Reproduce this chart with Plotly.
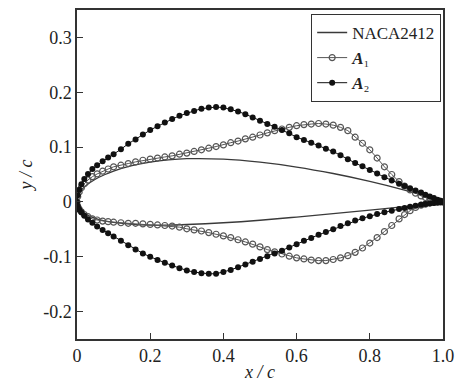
import plotly.graph_objects as go

# chordwise stations shared by the A1 / A2 profiles
x_st = [0, 0.002, 0.006, 0.012, 0.02, 0.03, 0.042, 0.055, 0.07, 0.085, 0.10,
        0.12, 0.14, 0.16, 0.18, 0.20, 0.22, 0.24, 0.26, 0.28, 0.30, 0.32, 0.34,
        0.36, 0.38, 0.40, 0.42, 0.44, 0.46, 0.48, 0.50, 0.52, 0.54, 0.56, 0.58,
        0.60, 0.62, 0.64, 0.66, 0.68, 0.70, 0.72, 0.74, 0.76, 0.78, 0.80, 0.82,
        0.84, 0.86, 0.88, 0.895, 0.91, 0.925, 0.94, 0.952, 0.964, 0.975, 0.985,
        0.993, 1.0]

a1_upper = [0, 0.010, 0.018, 0.026, 0.033, 0.040, 0.046, 0.051, 0.056, 0.060, 0.064,
            0.067, 0.070, 0.073, 0.076, 0.078, 0.080, 0.082, 0.084, 0.087, 0.089, 0.092, 0.095,
            0.098, 0.101, 0.104, 0.108, 0.111, 0.115, 0.118, 0.122, 0.126, 0.130, 0.133, 0.136,
            0.139, 0.141, 0.142, 0.143, 0.142, 0.140, 0.136, 0.130, 0.118, 0.107, 0.095, 0.080,
            0.064, 0.050, 0.037, 0.029, 0.022, 0.016, 0.011, 0.008, 0.006, 0.004, 0.002,
            0.001, 0.0]

a1_lower = [0, -0.008, -0.013, -0.018, -0.023, -0.027, -0.031, -0.033, -0.035, -0.036, -0.037,
            -0.038, -0.039, -0.039, -0.040, -0.041, -0.042, -0.043, -0.044, -0.046, -0.049, -0.051, -0.053,
            -0.056, -0.059, -0.062, -0.065, -0.069, -0.073, -0.077, -0.082, -0.087, -0.091, -0.095, -0.099,
            -0.102, -0.104, -0.106, -0.107, -0.107, -0.105, -0.102, -0.098, -0.092, -0.084, -0.075, -0.065,
            -0.054, -0.043, -0.031, -0.023, -0.016, -0.010, -0.006, -0.004, -0.002, -0.001, -0.0005,
            0.0, 0.0]

a2_upper = [0, 0.012, 0.022, 0.032, 0.042, 0.051, 0.060, 0.067, 0.074, 0.081, 0.087,
            0.096, 0.106, 0.114, 0.123, 0.131, 0.138, 0.145, 0.151, 0.157, 0.162, 0.166, 0.170,
            0.172, 0.173, 0.172, 0.169, 0.165, 0.160, 0.154, 0.148, 0.142, 0.137, 0.131, 0.125,
            0.118, 0.113, 0.108, 0.103, 0.097, 0.092, 0.085, 0.078, 0.071, 0.065, 0.058, 0.052,
            0.045, 0.039, 0.033, 0.029, 0.025, 0.021, 0.017, 0.013, 0.010, 0.007, 0.004,
            0.002, 0.0]

a2_lower = [0, -0.008, -0.014, -0.019, -0.025, -0.032, -0.038, -0.045, -0.051, -0.057, -0.063,
            -0.071, -0.079, -0.087, -0.094, -0.100, -0.106, -0.111, -0.116, -0.121, -0.125, -0.128, -0.130,
            -0.131, -0.131, -0.128, -0.124, -0.119, -0.114, -0.109, -0.104, -0.099, -0.094, -0.089, -0.083,
            -0.077, -0.071, -0.066, -0.060, -0.055, -0.050, -0.044, -0.039, -0.034, -0.030, -0.026, -0.022,
            -0.019, -0.016, -0.013, -0.011, -0.009, -0.007, -0.005, -0.004, -0.003, -0.002, -0.001,
            -0.0005, 0.0]

# NACA 2412 reference profile
naca_x = [0, 0.0125, 0.025, 0.05, 0.075, 0.1, 0.15, 0.2, 0.25, 0.3, 0.4, 0.5,
          0.6, 0.7, 0.8, 0.9, 0.95, 1.0]
naca_upper = [0, 0.0215, 0.0299, 0.0413, 0.0496, 0.0563, 0.0661, 0.0726, 0.0767,
              0.0788, 0.0780, 0.0724, 0.0636, 0.0518, 0.0375, 0.0208, 0.0114, 0.0013]
naca_lower = [0, -0.0165, -0.0227, -0.0301, -0.0346, -0.0375, -0.0410, -0.0423, -0.0422,
              -0.0412, -0.0380, -0.0334, -0.0276, -0.0214, -0.0150, -0.0082, -0.0048, -0.0013]

x_ticks = [0, 0.2, 0.4, 0.6, 0.8, 1.0]
x_ticklabels = ["0", "0.2", "0.4", "0.6", "0.8", "1.0"]
y_ticks = [-0.2, -0.1, 0, 0.1, 0.2, 0.3]
y_ticklabels = ["-0.2", "-0.1", "0", "0.1", "0.2", "0.3"]

FONT = "Liberation Serif"
TXT = "#222222"

def loop(xs, up, lo):
    xx = list(reversed(xs)) + list(xs[1:])
    yy = list(reversed(up)) + list(lo[1:])
    return xx, yy

fig = go.Figure()

nx, ny = loop(naca_x, naca_upper, naca_lower)
fig.add_trace(go.Scatter(x=nx, y=ny, mode="lines", name="NACA2412",
                         line=dict(color="#3a3a3a", width=1.3, shape="spline")))

ax, ay = loop(x_st, a1_upper, a1_lower)
fig.add_trace(go.Scatter(x=ax, y=ay, mode="lines+markers",
                         name="<b><i>A</i></b>\u2081",
                         line=dict(color="#555555", width=1),
                         marker=dict(symbol="circle-open", size=6, color="#555555",
                                     line=dict(width=1.2, color="#555555"))))

bx, by = loop(x_st, a2_upper, a2_lower)
fig.add_trace(go.Scatter(x=bx, y=by, mode="lines+markers",
                         name="<b><i>A</i></b>\u2082",
                         line=dict(color="#111111", width=1),
                         marker=dict(symbol="circle", size=6, color="#111111")))

axis_common = dict(showline=True, linecolor="#333333", linewidth=1.5, mirror=True,
                   ticks="inside", ticklen=6, tickwidth=1.3, tickcolor="#333333",
                   showgrid=False, zeroline=False,
                   tickfont=dict(family=FONT, size=18, color=TXT))

fig.update_layout(
    width=462, height=387,
    margin=dict(l=77, r=15, t=8, b=48),
    paper_bgcolor="white", plot_bgcolor="white",
    font=dict(family=FONT, size=17, color=TXT),
    showlegend=True,
    legend=dict(x=0.995, y=0.988, xanchor="right", yanchor="top",
                bordercolor="#333333", borderwidth=1, bgcolor="white",
                font=dict(family=FONT, size=17, color=TXT),
                tracegroupgap=0, itemwidth=30),
    xaxis=dict(range=[0, 1.0], tickvals=x_ticks, ticktext=x_ticklabels,
               title=dict(text="<i>x / c</i>", font=dict(family=FONT, size=18, color=TXT),
                          standoff=0),
               **axis_common),
    yaxis=dict(range=[-0.25, 0.35], tickvals=y_ticks, ticktext=y_ticklabels,
               title=dict(text="<i>y / c</i>", font=dict(family=FONT, size=18, color=TXT),
                          standoff=6),
               **axis_common),
)

fig.write_html("out.html",
               config={"displayModeBar": False},
               post_script="document.body.style.margin='0';document.body.style.padding='0';")
